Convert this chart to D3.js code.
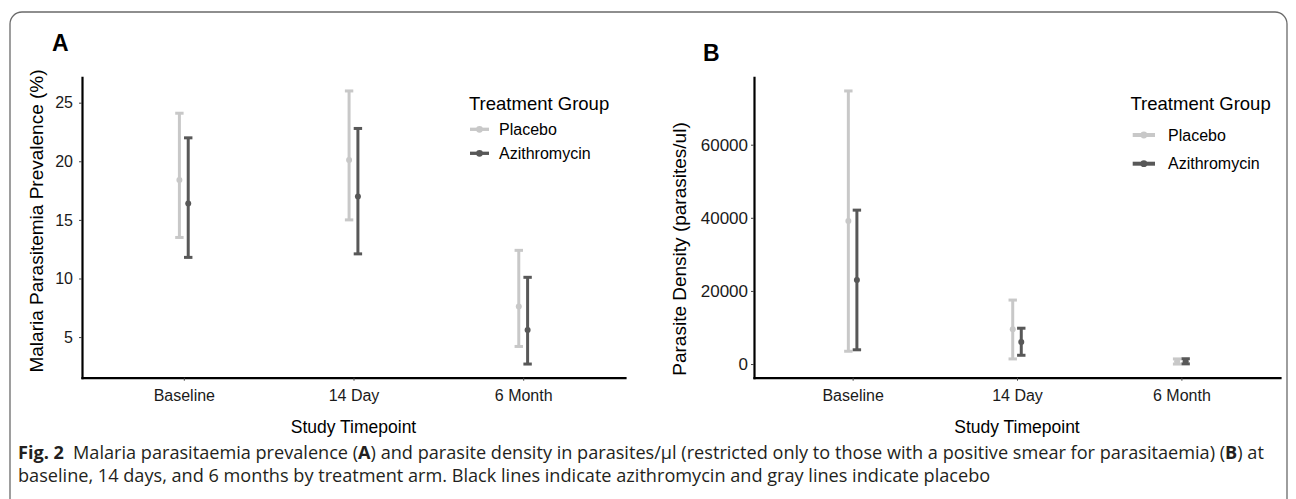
<!DOCTYPE html>
<html>
<head>
<meta charset="utf-8">
<script src="https://cdn.jsdelivr.net/npm/d3@7"></script>
<style>
  html, body { margin: 0; padding: 0; background: #ffffff; }
  svg { display: block; }
</style>
</head>
<body>
<script>
// ---------------- DATA ----------------
const categories = ["Baseline", "14 Day", "6 Month"];
const groups = ["Placebo", "Azithromycin"];

// Panel A: Malaria parasitemia prevalence (%)
const prevPlaceboMean = [18.4, 20.1, 7.6];
const prevPlaceboLow  = [13.5, 15.0, 4.2];
const prevPlaceboHigh = [24.1, 26.0, 12.4];
const prevAzithroMean = [16.4, 17.0, 5.6];
const prevAzithroLow  = [11.8, 12.1, 2.7];
const prevAzithroHigh = [22.0, 22.8, 10.1];
const prevTicks = [5, 10, 15, 20, 25];

// Panel B: Parasite density (parasites/ul)
const densPlaceboMean = [39100, 9500, 700];
const densPlaceboLow  = [3500, 1400, 0];
const densPlaceboHigh = [74700, 17500, 1400];
const densAzithroMean = [23000, 6000, 750];
const densAzithroLow  = [3900, 2400, 50];
const densAzithroHigh = [42100, 9800, 1450];
const densTicks = [0, 20000, 40000, 60000];

const groupColors = ["#c8c8c8", "#585858"];

// ---------------- DRAW ----------------
const W = 1296, H = 499;
const FONT = "'Liberation Sans', Arial, Helvetica, sans-serif";
const svg = d3.select("body").append("svg").attr("width", W).attr("height", H);

svg.append("rect").attr("width", W).attr("height", H).attr("fill", "#fff");
svg.append("rect")
  .attr("x", 10).attr("y", 12).attr("width", 1277).attr("height", 530)
  .attr("rx", 12).attr("ry", 12)
  .attr("fill", "none").attr("stroke", "#6a6a6a").attr("stroke-width", 1.3);

function panel(p) {
  const g = svg.append("g");
  const x = d3.scalePoint().domain(categories).range([p.x0, p.x1]).padding(0.6);
  const allVals = p.series.flatMap(s => s.low.concat(s.high));
  const [mn, mx] = d3.extent(allVals);
  const pad = (mx - mn) * 0.05;
  const y = d3.scaleLinear().domain([mn - pad, mx + pad]).range([p.yBottom, p.yTop]);

  // y axis
  const ya = g.append("g").attr("transform", `translate(${p.x0},0)`)
    .call(d3.axisLeft(y).tickValues(p.ticks).tickSize(3).tickSizeOuter(0)
      .tickPadding(p.yTickPad).tickFormat(d3.format("d")));
  ya.select(".domain").attr("stroke", "#000").attr("stroke-width", 2.2).attr("stroke-linecap", "square");
  ya.selectAll(".tick line").attr("stroke", "#444").attr("stroke-width", 1);
  ya.selectAll(".tick text").attr("fill", "#1a1a1a").style("font-family", FONT).style("font-size", p.yTickFont + "px");

  // x axis
  const xa = g.append("g").attr("transform", `translate(0,${p.yBottom})`)
    .call(d3.axisBottom(x).tickSize(3).tickSizeOuter(0).tickPadding(9));
  xa.select(".domain").attr("stroke", "#000").attr("stroke-width", 2.2).attr("stroke-linecap", "square");
  xa.selectAll(".tick line").attr("stroke", "#444").attr("stroke-width", 1);
  xa.selectAll(".tick text").attr("fill", "#1a1a1a").style("font-family", FONT).style("font-size", "16px");

  // axis titles
  g.append("text")
    .attr("transform", `translate(${p.yTitleX},${p.yTitleY}) rotate(-90)`)
    .attr("text-anchor", "middle").attr("dominant-baseline", "central")
    .style("font-family", FONT).style("font-size", "19px").attr("fill", "#000")
    .text(p.yTitle);
  g.append("text")
    .attr("x", (p.x0 + p.x1) / 2).attr("y", 433)
    .attr("text-anchor", "middle")
    .style("font-family", FONT).style("font-size", "17.5px").attr("fill", "#000")
    .text("Study Timepoint");

  // panel letter
  g.append("text").attr("x", p.letterX).attr("y", p.letterY)
    .style("font-family", FONT).style("font-size", "23px").style("font-weight", "bold")
    .attr("fill", "#000").text(p.letter);

  // error bars
  const step = x.step();
  p.series.forEach((s, gi) => {
    const off = (gi === 0 ? -1 : 1) * p.dodge * step;
    const col = groupColors[gi];
    const sg = g.append("g");
    categories.forEach((c, i) => {
      const cx = x(c) + off;
      sg.append("line").attr("x1", cx).attr("x2", cx)
        .attr("y1", y(s.low[i])).attr("y2", y(s.high[i]))
        .attr("stroke", col).attr("stroke-width", 3);
      [s.low[i], s.high[i]].forEach(v => {
        sg.append("line").attr("x1", cx - 4.2).attr("x2", cx + 4.2)
          .attr("y1", y(v)).attr("y2", y(v))
          .attr("stroke", col).attr("stroke-width", 3);
      });
      sg.append("circle").attr("cx", cx).attr("cy", y(s.mean[i])).attr("r", 3).attr("fill", col);
    });
  });

  // legend
  const lg = g.append("g");
  lg.append("text").attr("x", p.legX).attr("y", 110)
    .style("font-family", FONT).style("font-size", "18.5px").attr("fill", "#000")
    .text("Treatment Group");
  groups.forEach((name, gi) => {
    const cy = p.legItemY[gi];
    lg.append("line").attr("x1", p.legKeyX0).attr("x2", p.legKeyX1)
      .attr("y1", cy).attr("y2", cy)
      .attr("stroke", groupColors[gi]).attr("stroke-width", p.legKeyW);
    lg.append("circle").attr("cx", (p.legKeyX0 + p.legKeyX1) / 2).attr("cy", cy)
      .attr("r", 3.4).attr("fill", groupColors[gi]);
    lg.append("text").attr("x", p.legTextX).attr("y", cy)
      .attr("dominant-baseline", "central")
      .style("font-family", FONT).style("font-size", "16px").attr("fill", "#000")
      .text(name);
  });
}

panel({
  letter: "A", letterX: 52, letterY: 51,
  x0: 82, x1: 625, yTop: 77.3, yBottom: 377.7,
  ticks: prevTicks, yTickPad: 6, yTickFont: 16,
  yTitle: "Malaria Parasitemia Prevalence (%)", yTitleX: 36, yTitleY: 221,
  dodge: 0.026,
  series: [
    { mean: prevPlaceboMean, low: prevPlaceboLow, high: prevPlaceboHigh },
    { mean: prevAzithroMean, low: prevAzithroLow, high: prevAzithroHigh }
  ],
  legX: 469, legKeyX0: 470, legKeyX1: 489, legKeyW: 3.3, legTextX: 499, legItemY: [129.3, 153.3]
});

panel({
  letter: "B", letterX: 703, letterY: 61,
  x0: 754, x1: 1280, yTop: 77.3, yBottom: 377.7,
  ticks: densTicks, yTickPad: 3, yTickFont: 17,
  yTitle: "Parasite Density (parasites/ul)", yTitleX: 679, yTitleY: 249,
  dodge: 0.026,
  series: [
    { mean: densPlaceboMean, low: densPlaceboLow, high: densPlaceboHigh },
    { mean: densAzithroMean, low: densAzithroLow, high: densAzithroHigh }
  ],
  legX: 1130.5, legKeyX0: 1132.7, legKeyX1: 1155, legKeyW: 4, legTextX: 1168, legItemY: [135, 163.7]
});

// caption
const CAP_FONT = "'Open Sans', 'Noto Sans', sans-serif";
const cap1 = svg.append("text").attr("x", 18).attr("y", 459)
  .style("font-family", CAP_FONT).style("font-size", "15px").attr("fill", "#231f20");
cap1.append("tspan").style("font-weight", "bold").text("Fig. 2");
cap1.append("tspan").text("\u2002Malaria parasitaemia prevalence (");
cap1.append("tspan").style("font-weight", "bold").text("A");
cap1.append("tspan").text(") and parasite density in parasites/\u00b5l (restricted only to those with a positive smear for parasitaemia) (");
cap1.append("tspan").style("font-weight", "bold").text("B");
cap1.append("tspan").text(") at");
const cap2 = svg.append("text").attr("x", 18).attr("y", 482)
  .style("font-family", CAP_FONT).style("font-size", "15px").attr("fill", "#231f20")
  .text("baseline, 14 days, and 6 months by treatment arm. Black lines indicate azithromycin and gray lines indicate placebo");

// fit caption width to the reference line length
const target = 1247;
const w1 = cap1.node().getComputedTextLength();
const fs = 15 * target / w1;
cap1.style("font-size", fs + "px");
cap2.style("font-size", fs + "px");
</script>
</body>
</html>
